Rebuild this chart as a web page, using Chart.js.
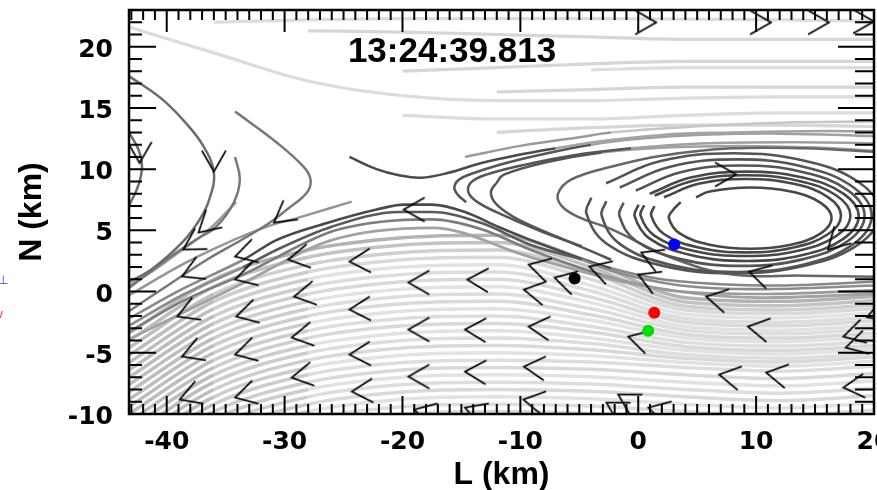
<!DOCTYPE html>
<html>
<head>
<meta charset="utf-8">
<script src="https://cdn.jsdelivr.net/npm/chart.js@4.4.1/dist/chart.umd.min.js"></script>
<style>
  html, body { margin: 0; padding: 0; background: #fff; }
  #wrap { width: 877px; height: 490px; }
</style>
</head>
<body>
<div id="wrap"><canvas id="c" width="877" height="490"></canvas></div>
<script>
// Axis ranges and tick labels (L and N in km)
const xMin = -43.2, xMax = 20, yMin = -10, yMax = 23;
const xTickValues = [-40, -30, -20, -10, 0, 10, 20];
const yTickValues = [-10, -5, 0, 5, 10, 15, 20];
const timeLabel = '13:24:39.813';

// Dense light streamlines below the separatrix, sampled on a shared L grid
const lowerGridL = [-43.2, -36, -28, -20, -12, -4, 4, 12, 20];
const lowerRows = [
  [-3.4, 1.0, 3.4, 4.4, 4.6, 2.4, -0.5, -0.8, -0.4],
  [-4.0, 0.4, 2.8, 3.8, 4.0, 2.0, -0.85, -1.15, -0.75],
  [-4.6, -0.2, 2.2, 3.2, 3.4, 1.5, -1.2, -1.5, -1.1],
  [-5.2, -0.8, 1.6, 2.6, 2.8, 1.0, -1.5, -1.8, -1.4],
  [-5.8, -1.4, 1.0, 2.0, 2.2, 0.5, -1.85, -2.15, -1.75],
  [-6.4, -2.0, 0.4, 1.4, 1.6, 0.05, -2.2, -2.5, -2.1],
  [-7.0, -2.6, -0.2, 0.8, 1.0, -0.45, -2.5, -2.8, -2.4],
  [-7.6, -3.2, -0.8, 0.2, 0.4, -0.9, -2.85, -3.15, -2.75],
  [-8.2, -3.8, -1.4, -0.4, -0.2, -1.4, -3.15, -3.45, -3.05],
  [-8.8, -4.4, -2.0, -1.0, -0.8, -1.9, -3.5, -3.8, -3.4],
  [-9.4, -5.0, -2.6, -1.6, -1.4, -2.35, -3.8, -4.1, -3.7],
  [-10.0, -5.6, -3.2, -2.2, -2.0, -2.85, -4.15, -4.45, -4.05],
  [-10.6, -6.2, -3.8, -2.8, -2.6, -3.3, -4.5, -4.8, -4.4],
  [-11.2, -6.8, -4.4, -3.4, -3.2, -3.8, -4.8, -5.1, -4.7],
  [-11.8, -7.4, -5.0, -4.0, -3.8, -4.25, -5.15, -5.45, -5.05],
  [-12.4, -8.0, -5.6, -4.6, -4.4, -4.75, -5.45, -5.75, -5.35],
  [-13.0, -8.6, -6.2, -5.2, -5.0, -5.25, -5.8, -6.1, -5.7],
  [-13.6, -9.2, -6.8, -5.8, -5.6, -5.75, -6.2, -6.5, -6.1],
  [-14.2, -9.8, -7.4, -6.4, -6.2, -6.35, -6.8, -7.1, -6.7],
  [-14.8, -10.4, -8.0, -7.0, -6.8, -6.95, -7.4, -7.7, -7.3],
  [-15.4, -11.0, -8.6, -7.6, -7.4, -7.55, -8.0, -8.3, -7.9],
  [-16.0, -11.6, -9.2, -8.2, -8.0, -8.15, -8.6, -8.9, -8.5],
  [-16.6, -12.2, -9.8, -8.8, -8.6, -8.75, -9.2, -9.5, -9.1],
  [-17.2, -12.8, -10.4, -9.4, -9.2, -9.35, -9.8, -10.1, -9.7],
  [-17.8, -13.4, -11.0, -10.0, -9.8, -9.95, -10.4, -10.7, -10.3]
];

// Light streamlines in the upper half (null = no line there)
const upperGridL = [-43.2, -36, -28, -20, -12, -4, 4, 12, 20];
const upperRows = [
  [null, 22.0, 22.2, 22.3, 22.3, 22.3, 22.25, 22.2, 22.1],
  [null, null, 21.3, 21.2, 21.0, 20.8, 20.6, 20.6, 20.6],
  [21.6, 19.5, 17.2, 16.0, 15.6, 15.6, 15.8, 15.9, 15.9],
  [null, null, null, 18.0, 18.3, 18.6, 18.8, 18.8, 18.8],
  [null, null, null, null, null, 18.1, 18.3, 18.3, 18.3],
  [null, null, null, null, 16.3, 16.5, 16.7, 16.7, 16.7],
  [null, null, null, 14.4, 14.1, 14.1, 14.4, 14.6, 14.6],
  [null, null, null, null, 13.0, 13.4, 13.6, 13.6, 13.5]
];

// Field lines on the left (turning points), [L, N]
const lineA1 = [[-43.2, 17.6], [-40.5, 15.8], [-38.5, 13.9], [-36.9, 11.9], [-36.0, 9.7], [-36.4, 7.5], [-37.2, 5.9], [-38.6, 4.1], [-41.3, 1.8], [-43.2, 0.8]];
const lineA2 = [[-43.2, 13.0], [-42.4, 11.6], [-42.1, 10.2], [-42.4, 8.7], [-43.2, 7.0]];
const lineA3 = [[-34.2, 11.0], [-33.8, 9.15], [-34.3, 7.3], [-35.8, 5.3], [-37.5, 4.25], [-39.6, 2.9], [-41.7, 1.4], [-43.2, 0.3]];
const lineA3b = [[-34.1, 7.3], [-36.6, 4.9], [-38.7, 3.4], [-41.3, 1.6], [-43.2, 0.5]];
const lineA4 = [[-34.2, 14.7], [-30.7, 12.2], [-28.4, 10.2], [-27.8, 9.15], [-28.1, 8.1], [-29.8, 6.7], [-31.3, 5.6], [-33.6, 4.25], [-36.6, 2.6], [-39.6, 0.7], [-43.2, -1.6]];

// Separatrix bundle through the X-line
const lineSP0 = [[-24.3, 7.35], [-28.6, 6.1], [-31.5, 5.3], [-35.3, 3.8], [-38.7, 2.2], [-43.2, -0.3]];
const lineSP1 = [[-43.2, -2.2], [-38.7, 0.2], [-33.5, 2.6], [-30.7, 4.2], [-26.4, 5.6], [-22.2, 6.7], [-19.9, 7.1], [-17.5, 7.1], [-14.7, 6.5], [-11.9, 5.3], [-9.1, 4.2], [-6.3, 3.2], [-2.3, 1.9], [2, 1.0], [7, 0.6], [12, 0.5], [20, 0.8]];
const lineSP2 = [[-43.2, -2.8], [-38.7, -0.3], [-33.5, 2.0], [-30.7, 3.4], [-26, 5.3], [-20.3, 6.5], [-17.5, 6.5], [-13.3, 5.6], [-9.1, 3.8], [-4.8, 2.6], [-2.3, 1.7], [3.6, 0.5], [10.4, 0.2], [20, 0.5]];
const lineSP3 = [[-43.2, -3.3], [-38.7, -0.8], [-33.5, 1.4], [-26, 4.9], [-21.8, 5.7], [-17.5, 5.9], [-13.3, 5.1], [-9.1, 3.4], [-3.1, 1.4], [3.6, 0.0], [10.4, -0.2], [20, 0.1]];
const lineSP4 = [[-43.2, -3.9], [-33.5, 0.7], [-26, 4.2], [-17.5, 5.2], [-9.1, 2.8], [0.25, 0.5], [10.4, -0.5], [20, -0.2]];
const lineB1 = [[-24.5, 11.0], [-22.2, 10.0], [-20.3, 9.5], [-18.4, 9.3], [-16.1, 9.7], [-13.3, 10.5], [-10.5, 11.1], [-7.0, 11.7], [-3.0, 12.3], [2, 12.8], [8, 13.0], [14, 13.1], [20, 13.1]];
const lineUpper = [[-14.7, 11.0], [-10, 11.9], [-5, 12.6], [-2.3, 13.0], [5, 13.5], [12, 13.8], [20, 13.9]];

// Open lines wrapping the left end of the vortex
const lineH1 = [[-14.6, 7.3], [-15.3, 7.9], [-15.6, 8.5], [-15.2, 9.15], [-14.2, 9.6], [-11.6, 10.4], [-8.2, 11.2], [-4.0, 12.0], [0.25, 12.5], [5.3, 12.8], [12.1, 12.9], [20, 12.7]];
const lineH2 = [[-4.8, 3.7], [-8.2, 4.9], [-11.6, 6.3], [-13.7, 7.35], [-14.4, 8.1], [-14.2, 8.9], [-12.9, 9.55], [-9.9, 10.3], [-5.7, 11.1], [-0.6, 11.7], [5.3, 12.1], [13.8, 12.2], [20, 12.1]];
const lineH3 = [[-2.3, 2.6], [-6.3, 4.25], [-10.2, 5.9], [-12.0, 7.1], [-12.5, 8.1], [-12.0, 8.9], [-11.4, 9.55], [-7.6, 10.6], [-3.1, 11.35], [1.9, 11.75], [8.7, 11.9], [15.5, 11.75], [20, 11.5]];

// Vortex (flux rope) loops, inner to outer
const loop1 = [[4.9, 7.7], [6.05, 8.17], [9.5, 8.5], [12.95, 8.17], [15.48, 7.25], [16.4, 6.0], [15.48, 4.75], [12.95, 3.83], [9.5, 3.5], [6.05, 3.83], [3.52, 4.75], [2.6, 6.0], [2.94, 6.65], [3.6, 7.3]];
const loop2 = [[2.18, 7.7], [5.12, 8.8], [9.15, 9.2], [13.18, 8.8], [16.12, 7.7], [17.2, 6.2], [16.12, 4.7], [13.18, 3.6], [9.15, 3.2], [5.12, 3.6], [2.18, 4.7], [1.1, 6.2], [1.37, 6.98]];
const loop3 = [[1.39, 7.85], [4.65, 9.06], [9.1, 9.5], [13.55, 9.06], [16.81, 7.85], [18.0, 6.2], [16.81, 4.55], [13.55, 3.34], [9.1, 2.9], [4.65, 3.34], [1.39, 4.55], [0.2, 6.2], [0.5, 7.05]];
const loop4 = [[0.97, 7.98], [4.45, 9.31], [9.2, 9.8], [13.95, 9.31], [17.43, 7.98], [18.7, 6.15], [17.43, 4.33], [13.95, 2.99], [9.2, 2.5], [4.45, 2.99], [0.97, 4.33], [-0.3, 6.15], [0.02, 7.1]];
const loop5 = [[-0.21, 8.25], [3.6, 9.75], [8.8, 10.3], [14.0, 9.75], [17.81, 8.25], [19.2, 6.2], [17.81, 4.15], [14.0, 2.65], [8.8, 2.1], [3.6, 2.65], [-0.21, 4.15], [-1.6, 6.2], [-1.25, 7.26]];
const loop6 = [[-1.57, 8.5], [2.63, 10.18], [8.35, 10.8], [14.08, 10.18], [18.27, 8.5], [19.8, 6.2], [18.27, 3.9], [14.08, 2.22], [8.35, 1.6], [2.63, 2.22], [-1.57, 3.9], [-3.1, 6.2], [-2.71, 7.39]];
const loop7 = [[-2.73, 8.85], [1.83, 10.64], [8.05, 11.3], [14.28, 10.64], [18.83, 8.85], [20.5, 6.4], [18.83, 3.95], [14.28, 2.16], [8.05, 1.5], [1.83, 2.16], [-2.73, 3.95], [-4.4, 6.4], [-3.98, 7.67]];
const loop8 = [[20.5, 1.2], [14, 1.3], [8, 1.4], [3, 2.7], [-2.3, 5.1], [-5.1, 6.1], [-6.5, 7.0], [-6.8, 8.0], [-5.7, 9.15], [-2.3, 10.2], [2, 11.1], [8, 11.7], [14, 11.7], [20.5, 11.4]];

// Flow-direction arrowheads: tip position and heading (degrees, 0 = +L, 90 = +N)
const arrowL = [-38.7, -39.1, -38.7, -38.9, -34.2, -34.2, -34.1, -34.2, -34.2, -29.7, -29.2, -29.4, -29.4,
  -24.5, -24.5, -24.5, -24.3, -19.5, -19.5, -19.5, -19.0, -14.5, -14.7, -14.7, -14.7,
  -9.3, -9.7, -9.3, -9.7, -9.75, -7.1, -4.15, 0.25, 0.0, -0.85, -1.7, -2.7, 0.85,
  5.76, 9.4, 9.3, 6.86, 10.85, 16.1, 17.4, 17.6, 17.4, 19.4,
  -36.0, -42.3, -37.3, -38.6, -30.9, -19.9, 8.3, 1.53, 11.27, 16.19, 20.0];
const arrowN = [1.23, -2.04, -5.31, -8.82, 2.86, 0.98, -2.04, -5.15, -8.66, 2.61, -0.41, -3.76, -7.03,
  2.45, -1.47, -5.15, -8.17, 0.74, -3.1, -6.94, -9.64, 0.98, -3.1, -6.54, -9.48,
  2.2, 0.16, -2.86, -6.13, -8.82, 1.14, 2.04, 3.19, 1.39, -3.68, -8.41, -9.07, -9.48,
  -0.41, 1.63, -2.86, -6.78, -6.62, 3.43, -3.68, -4.58, -7.84, -2.1,
  9.8, 10.5, 4.82, 3.43, 5.64, 6.7, 9.56, 21.98, 21.98, 21.98, 22.06];
const arrowHeading = [204, 202, 201, 200, 196, 196, 195, 195, 195, 190, 190, 190, 190,
  183, 183, 183, 183, 180, 180, 180, 165, 178, 178, 178, 160,
  165, 170, 175, 175, 170, 165, 163, 157, 157, 165, 150, 150, 165,
  168, 165, 170, 170, 170, 225, 195, 195, 185, 200,
  270, 270, 222, 211, 217, 180, 0, 0, 0, 0, 0];

// Spacecraft positions
const probeL = [-5.4, 3.05, 1.36, 0.85];
const probeN = [1.06, 3.84, -1.72, -3.2];
const probeColors = ['#000000', '#0000ff', '#ff0000', '#00e000'];

// ---------- drawing ----------
const toXY = pts => pts.map(p => ({ x: p[0], y: p[1] }));
const gridXY = (grid, row) => grid.map((l, i) => ({ x: l, y: row[i] }));
const midX = c => (c.p0.parsed.x + c.p1.parsed.x) / 2;

function curve(pts, color, width, order, extra) {
  return Object.assign({
    data: toXY(pts), borderColor: color, borderWidth: width, pointRadius: 0,
    tension: 0.4, fill: false, order: order
  }, extra || {});
}

const datasets = [];
const lowerShades = ['#d9d9d9', '#e2e2e2', '#dddddd'];
lowerRows.forEach((row, i) => {
  const base = i === 0 ? '#b3b3b3' : i === 1 ? '#c3c3c3' : i === 2 ? '#cfcfcf' : lowerShades[i % 3];
  datasets.push({
    data: gridXY(lowerGridL, row), borderColor: base, borderWidth: 3.5, pointRadius: 0,
    cubicInterpolationMode: 'monotone', fill: false, order: 7,
    segment: { borderColor: c => midX(c) < -37 ? '#bdbdbd' : (midX(c) < -30 && i > 2 ? '#cdcdcd' : undefined) }
  });
});
upperRows.forEach((row, i) => {
  datasets.push({
    data: gridXY(upperGridL, row), borderColor: i % 2 ? '#d6d6d6' : '#dcdcdc', borderWidth: 3.2, pointRadius: 0,
    cubicInterpolationMode: 'monotone', fill: false, order: 7, spanGaps: false
  });
});

datasets.push(curve(lineUpper, '#9a9a9a', 2.5, 6, { segment: { borderColor: c => midX(c) > 0 ? '#c6c6c6' : undefined } }));
datasets.push(curve(lineSP4, '#a2a2a2', 2.8, 6, { cubicInterpolationMode: 'monotone' }));
datasets.push(curve(lineSP3, '#7d7d7d', 2.6, 5, { cubicInterpolationMode: 'monotone', segment: { borderColor: c => midX(c) > -2 ? '#9a9a9a' : undefined } }));
datasets.push(curve(lineSP2, '#8c8c8c', 2.6, 5, { cubicInterpolationMode: 'monotone', segment: { borderColor: c => (midX(c) > -34 && midX(c) < -4) ? '#5a5a5a' : undefined } }));
datasets.push(curve(lineSP1, '#888888', 2.6, 5, { cubicInterpolationMode: 'monotone', segment: { borderColor: c => (midX(c) > -34 && midX(c) < -3) ? '#4a4a4a' : undefined } }));
datasets.push(curve(lineSP0, '#959595', 2.5, 5));
datasets.push(curve(lineA1, '#6b6b6b', 2.5, 4));
datasets.push(curve(lineA2, '#6b6b6b', 2.5, 4));
datasets.push(curve(lineA3, '#777777', 2.5, 4));
datasets.push(curve(lineA3b, '#9a9a9a', 2.5, 5));
datasets.push(curve(lineA4, '#777777', 2.5, 4));
datasets.push(curve(lineB1, '#4a4a4a', 2.5, 4, { segment: { borderColor: c => midX(c) > -6 ? '#a3a3a3' : undefined } }));
[lineH1, lineH2, lineH3].forEach(h => datasets.push(curve(h, '#555555', 2.5, 4, {
  segment: { borderColor: c => midX(c) > -3 ? '#a0a0a0' : undefined }
})));
[loop1, loop2, loop3, loop4].forEach(lp => datasets.push(curve(lp, '#474747', 2.6, 3)));
[loop5, loop6, loop7].forEach(lp => datasets.push(curve(lp, '#545454', 2.6, 3)));
datasets.push(curve(loop8, '#666666', 2.5, 3));

// chevron marker, tip at the centre of the image, opening toward +x
const chevron = (() => {
  const c = document.createElement('canvas');
  c.width = 58; c.height = 58;
  const g = c.getContext('2d');
  g.strokeStyle = '#000'; g.lineWidth = 1.7; g.lineJoin = 'miter';
  g.beginPath(); g.moveTo(50, 17); g.lineTo(29, 29); g.lineTo(50, 41); g.stroke();
  return c;
})();

datasets.push({
  data: arrowL.map((l, i) => ({ x: l, y: arrowN[i] })), showLine: false,
  pointStyle: chevron, pointRadius: 10, pointRotation: arrowHeading.map(h => 180 - h), order: 1
});
datasets.push({
  data: probeL.map((l, i) => ({ x: l, y: probeN[i] })), showLine: false,
  pointStyle: 'circle', pointRadius: 6, pointBackgroundColor: probeColors, pointBorderWidth: 0, order: 0
});

const framePlugin = {
  id: 'frame',
  afterDatasetsDraw(chart) {
    const { ctx, chartArea: a, scales: { x, y } } = chart;
    ctx.save();
    ctx.strokeStyle = '#000';
    ctx.lineWidth = 2;
    ctx.beginPath();
    for (let v = Math.ceil(xMin); v <= xMax; v++) {
      const px = x.getPixelForValue(v);
      const major = v % 10 === 0;
      ctx.moveTo(px, a.bottom); ctx.lineTo(px, a.bottom - (major ? 18 : 10));
      ctx.moveTo(px, a.top); ctx.lineTo(px, a.top + (major ? 22 : 10));
    }
    for (let v = yMin; v <= yMax; v++) {
      const py = y.getPixelForValue(v);
      const major = v % 5 === 0;
      ctx.moveTo(a.left, py); ctx.lineTo(a.left + (major ? 27 : 13), py);
      ctx.moveTo(a.right, py); ctx.lineTo(a.right - (major ? 36 : 19), py);
    }
    ctx.stroke();
    ctx.lineWidth = 2.5;
    ctx.strokeRect(a.left, a.top, a.right - a.left, a.bottom - a.top);

    ctx.fillStyle = '#000';
    ctx.font = 'bold 25px "DejaVu Sans"';
    ctx.textBaseline = 'alphabetic';
    ctx.textAlign = 'center';
    xTickValues.forEach(v => ctx.fillText(String(v), x.getPixelForValue(v), 449));
    ctx.textAlign = 'right';
    yTickValues.forEach(v => ctx.fillText(String(v), 113, y.getPixelForValue(v) + 10));

    ctx.font = 'bold 32px "Liberation Sans"';
    ctx.textAlign = 'center';
    ctx.fillText('L (km)', (a.left + a.right) / 2, 484);
    ctx.save();
    ctx.translate(41, (a.top + a.bottom) / 2);
    ctx.rotate(-Math.PI / 2);
    ctx.fillText('N (km)', 0, 0);
    ctx.restore();

    ctx.font = 'bold 35px "Liberation Sans"';
    ctx.fillText(timeLabel, 452, 62);

    ctx.font = '12px "Liberation Sans"';
    ctx.textAlign = 'right';
    ctx.fillStyle = '#2a3cff';
    ctx.fillText('B\u22A5', 8, 284);
    ctx.fillStyle = '#ff2a2a';
    ctx.fillText('v', 3, 318);
    ctx.restore();
  }
};

new Chart(document.getElementById('c'), {
  type: 'line',
  data: { datasets },
  options: {
    responsive: false,
    animation: false,
    devicePixelRatio: 1,
    events: [],
    layout: { autoPadding: false, padding: { top: 10, right: 3, left: 0, bottom: 0 } },
    plugins: { legend: { display: false }, tooltip: { enabled: false }, title: { display: false } },
    elements: { point: { radius: 0 }, line: { borderCapStyle: 'butt', borderJoinStyle: 'round' } },
    scales: {
      x: {
        type: 'linear', min: xMin, max: xMax,
        grid: { display: false }, border: { display: false }, ticks: { display: false },
        afterFit(s) { s.height = 76; }
      },
      y: {
        type: 'linear', min: yMin, max: yMax,
        grid: { display: false }, border: { display: false }, ticks: { display: false },
        afterFit(s) { s.width = 129; }
      }
    }
  },
  plugins: [framePlugin]
});
</script>
</body>
</html>
